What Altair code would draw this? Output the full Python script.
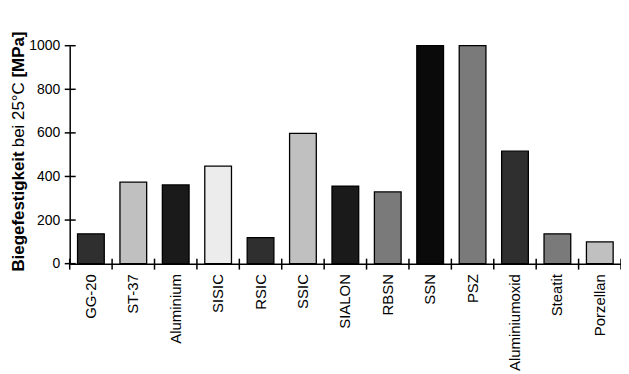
import altair as alt
import pandas as pd

categories = ["GG-20", "ST-37", "Aluminium", "SISIC", "RSIC", "SSIC", "SIALON",
              "RBSN", "SSN", "PSZ", "Aluminiumoxid", "Steatit", "Porzellan"]
values = [137, 374, 361, 447, 119, 598, 356, 329, 1000, 1000, 516, 137, 100]
bar_colors = ["#2f2f2f", "#c0c0c0", "#1a1a1a", "#ececec", "#2f2f2f", "#c0c0c0", "#1a1a1a",
              "#7a7a7a", "#0a0a0a", "#7a7a7a", "#2f2f2f", "#7a7a7a", "#c0c0c0"]
y_ticks = [0, 200, 400, 600, 800, 1000]
title_parts = ["Biegefestigkeit", "bei 25°C", "[MPa]"]

W, H = 554, 219
FONT = "Liberation Sans"

df = pd.DataFrame({"Werkstoff": categories, "Wert": values})

xscale = alt.Scale(domain=categories, paddingInner=0, paddingOuter=0)
yscale = alt.Scale(domain=[0, 1000], nice=False)

base = alt.Chart(df)

bars = base.mark_bar(width=alt.RelativeBandSize(0.63), stroke="black", strokeWidth=1.3).encode(
    x=alt.X("Werkstoff:N", scale=xscale, sort=categories,
            axis=alt.Axis(title=None, labelAngle=270, labelAlign="right", labelBaseline="middle",
                          labelFont=FONT, labelFontSize=15, labelColor="black", labelPadding=10,
                          ticks=False, domainColor="black", domainWidth=1.5, grid=False,
                          labelOverlap=False)),
    y=alt.Y("Wert:Q", scale=yscale,
            axis=alt.Axis(title=None, values=y_ticks, format="d", labelFont=FONT, labelFontSize=14,
                          labelColor="black", labelPadding=10, ticks=False,
                          domainColor="black", domainWidth=1.5, grid=False)),
    color=alt.Color("Werkstoff:N", scale=alt.Scale(domain=categories, range=bar_colors), legend=None),
)

xticks = base.mark_rule(color="black", strokeWidth=1.5).encode(
    x=alt.X("Werkstoff:N", scale=xscale, sort=categories, bandPosition=0),
    y=alt.value(H - 5), y2=alt.value(H + 6),
)

end_tick = alt.Chart(pd.DataFrame({"e": [0]})).mark_rule(color="black", strokeWidth=1.5).encode(
    x=alt.value(W), y=alt.value(H - 5), y2=alt.value(H + 6),
)

ytick_df = pd.DataFrame({"v": y_ticks})
yticks = alt.Chart(ytick_df).mark_rule(color="black", strokeWidth=1.5).encode(
    y=alt.Y("v:Q", scale=yscale),
    x=alt.value(-5), x2=alt.value(6),
)

tx = -51
TS = 17
t1 = alt.Chart(pd.DataFrame({"t": [title_parts[0]]})).mark_text(
    angle=270, align="left", baseline="middle", font=FONT, fontSize=TS, fontWeight="bold", color="black"
).encode(text="t:N", x=alt.value(tx), y=alt.value(227))
t2 = alt.Chart(pd.DataFrame({"t": [title_parts[1]]})).mark_text(
    angle=270, align="left", baseline="middle", font=FONT, fontSize=TS, color="black"
).encode(text="t:N", x=alt.value(tx), y=alt.value(102))
t3 = alt.Chart(pd.DataFrame({"t": [title_parts[2]]})).mark_text(
    angle=270, align="left", baseline="middle", font=FONT, fontSize=TS, fontWeight="bold", color="black"
).encode(text="t:N", x=alt.value(tx), y=alt.value(32))

chart = alt.layer(bars, xticks, end_tick, yticks, t1, t2, t3).properties(
    width=W, height=H,
    background="white",
    autosize=alt.AutoSizeParams(type="none"),
    padding={"left": 62, "top": 37, "right": 0, "bottom": 108},
).configure_view(stroke=None)

chart.save("out.html", embed_options={"renderer": "svg", "actions": False})
